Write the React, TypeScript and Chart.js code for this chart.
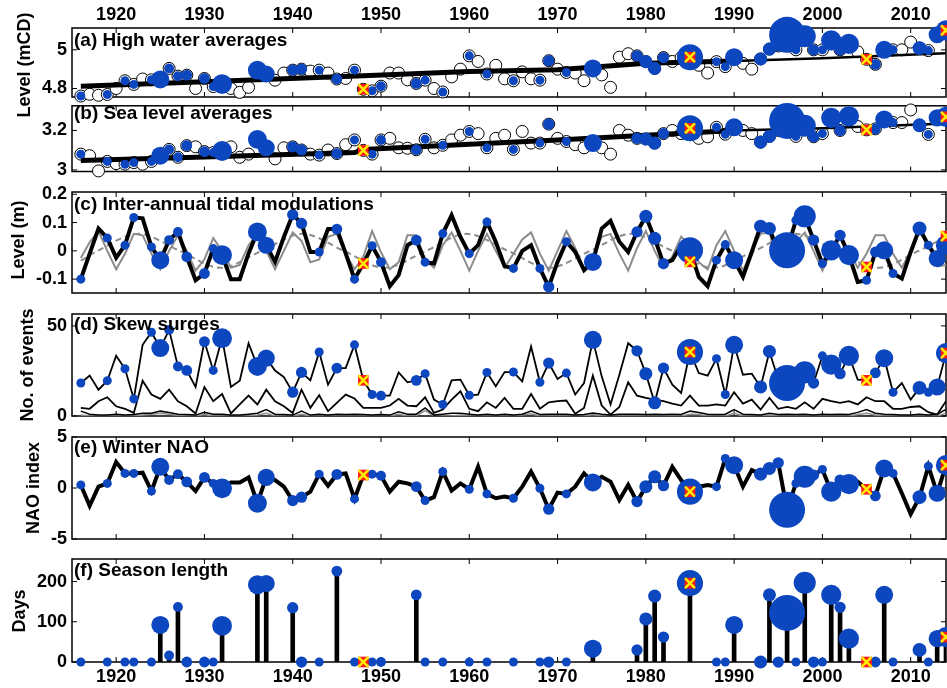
import React, { useEffect, useRef } from 'react';
import { Chart, registerables } from 'chart.js';

Chart.register(...registerables);

const FONT = "'Liberation Sans', Arial, Helvetica, sans-serif";
const BLUE = '#0d47bf';
const RED = '#ff1a1a';
const YELLOW = '#ffee00';
const GRAY = '#8c8c8c';
const X_MIN = 1915;
const X_MAX = 2014;
const R_UNIT = 4.5;

// ---------- categories ----------
const years = [
  1916, 1917, 1918, 1919,
  1920, 1921, 1922, 1923, 1924, 1925, 1926, 1927, 1928, 1929,
  1930, 1931, 1932, 1933, 1934, 1935, 1936, 1937, 1938, 1939,
  1940, 1941, 1942, 1943, 1944, 1945, 1946, 1947, 1948, 1949,
  1950, 1951, 1952, 1953, 1954, 1955, 1956, 1957, 1958, 1959,
  1960, 1961, 1962, 1963, 1964, 1965, 1966, 1967, 1968, 1969,
  1970, 1971, 1972, 1973, 1974, 1975, 1976, 1977, 1978, 1979,
  1980, 1981, 1982, 1983, 1984, 1985, 1986, 1987, 1988, 1989,
  1990, 1991, 1992, 1993, 1994, 1995, 1996, 1997, 1998, 1999,
  2000, 2001, 2002, 2003, 2004, 2005, 2006, 2007, 2008, 2009,
  2010, 2011, 2012, 2013, 2014,
];
const xTickYears = [1920, 1930, 1940, 1950, 1960, 1970, 1980, 1990, 2000, 2010];

// ---------- (a) high water averages (mCD) ----------
const highWater = [
  4.761, 4.770, 4.765, 4.769,
  4.800, 4.840, 4.821, 4.849, 4.845, 4.847, 4.904, 4.864, 4.869, 4.800,
  4.852, 4.810, 4.823, 4.800, 4.780, 4.806, 4.895, 4.875, 4.843, 4.880,
  4.895, 4.900, 4.890, 4.895, 4.880, 4.849, 4.852, 4.895, 4.796, 4.788,
  4.812, 4.880, 4.880, 4.845, 4.826, 4.843, 4.800, 4.782, 4.860, 4.900,
  4.969, 4.940, 4.875, 4.920, 4.850, 4.840, 4.886, 4.850, 4.843, 4.944,
  4.900, 4.883, 4.880, 4.840, 4.904, 4.870, 4.806, 4.962, 4.980, 4.969,
  4.939, 4.904, 4.960, 4.940, 4.960, 4.962, 4.920, 4.880, 4.939, 4.913,
  4.962, 4.930, 4.900, 4.953, 5.004, 5.020, 5.078, 5.000, 5.070, 5.000,
  5.000, 5.049, 5.000, 5.031, 4.990, 4.951, 4.925, 5.000, 5.000, 5.000,
  5.040, 5.009, 4.996, 5.078, 5.101,
];
const hwTrendYears = [1916, 1930, 1948, 1960, 1970, 1980, 1990, 2000, 2014];
const hwTrendValues = [4.812, 4.835, 4.866, 4.888, 4.897, 4.930, 4.942, 4.956, 4.982];

// ---------- (b) sea level averages (mCD) ----------
const seaLevel = [
  3.080, 3.072, 2.995, 3.043,
  3.032, 3.029, 3.037, 3.029, 3.043, 3.072, 3.104, 3.064, 3.123, 3.117,
  3.093, 3.088, 3.096, 3.117, 3.064, 3.080, 3.155, 3.112, 3.056, 3.112,
  3.117, 3.101, 3.080, 3.075, 3.101, 3.083, 3.128, 3.152, 3.099, 3.080,
  3.152, 3.160, 3.112, 3.110, 3.102, 3.155, 3.112, 3.125, 3.152, 3.176,
  3.195, 3.184, 3.112, 3.160, 3.176, 3.104, 3.195, 3.136, 3.136, 3.232,
  3.160, 3.144, 3.128, 3.112, 3.136, 3.112, 3.080, 3.200, 3.176, 3.160,
  3.157, 3.136, 3.184, 3.200, 3.184, 3.211, 3.160, 3.168, 3.216, 3.181,
  3.216, 3.200, 3.184, 3.141, 3.170, 3.200, 3.248, 3.170, 3.224, 3.168,
  3.184, 3.264, 3.200, 3.272, 3.220, 3.203, 3.208, 3.256, 3.240, 3.240,
  3.304, 3.226, 3.180, 3.264, 3.269,
];
const slTrendYears = [1916, 1930, 1947, 1948, 1960, 1970, 1980, 1990, 2000, 2014];
const slTrendValues = [3.048, 3.065, 3.088, 3.103, 3.130, 3.152, 3.176, 3.200, 3.211, 3.235];

// ---------- (c) inter-annual tidal modulations (m) ----------
const tidalObserved = [
  -0.100, -0.010, 0.079, 0.045,
  -0.024, 0.020, 0.118, 0.115, 0.014, -0.033, 0.038, 0.067, -0.021, -0.104,
  -0.080, 0.008, -0.015, -0.100, -0.100, -0.009, 0.067, 0.020, -0.039, 0.049,
  0.128, 0.097, -0.004, -0.004, 0.077, 0.077, -0.009, -0.100, -0.045, 0.018,
  -0.040, -0.125, -0.086, 0.020, 0.038, -0.040, -0.045, 0.061, 0.126, 0.049,
  -0.010, 0.020, 0.102, 0.032, -0.054, -0.062, 0.000, 0.020, -0.062, -0.127,
  -0.039, 0.032, -0.004, -0.068, -0.039, 0.079, 0.106, 0.032, -0.004, 0.067,
  0.122, 0.044, -0.045, -0.033, 0.020, 0.002, -0.092, -0.125, -0.033, 0.022,
  -0.033, -0.092, -0.004, 0.087, 0.079, -0.004, 0.002, 0.108, 0.122, 0.038,
  -0.045, 0.002, 0.055, -0.015, -0.110, -0.104, -0.004, 0.002, -0.080, -0.098,
  -0.004, 0.079, 0.020, -0.027, 0.020,
];
const tidalPredicted = [
  -0.025, 0.030, 0.070, 0.000,
  -0.065, -0.010, 0.060, 0.055, -0.010, -0.065, 0.000, 0.055, 0.000, -0.070,
  -0.030, 0.045, 0.000, -0.060, -0.050, 0.020, 0.060, 0.000, -0.065, 0.000,
  0.065, 0.035, -0.040, -0.030, 0.050, 0.060, -0.010, -0.065, -0.020, 0.070,
  -0.005, -0.065, -0.040, 0.055, 0.055, -0.030, -0.060, 0.020, 0.065, 0.000,
  -0.070, 0.000, 0.060, 0.000, -0.060, -0.010, 0.040, 0.065, -0.010, -0.070,
  0.000, 0.070, 0.010, -0.065, -0.030, 0.050, 0.060, -0.010, -0.070, 0.010,
  0.070, 0.000, -0.060, -0.020, 0.050, 0.020, -0.040, -0.065, 0.020, 0.070,
  0.000, -0.070, 0.000, 0.060, 0.065, -0.050, -0.055, 0.030, 0.065, 0.000,
  -0.070, 0.000, 0.060, 0.000, -0.060, -0.010, 0.055, 0.055, -0.010, -0.060,
  0.000, 0.080, 0.020, -0.055, -0.050,
];
const nodalYears = [1916, 1917.9, 1922.5, 1927.2, 1931.8, 1936.5, 1941.1, 1945.8, 1950.4, 1955.1, 1959.7, 1964.4, 1969.0, 1973.7, 1978.3, 1983.0, 1987.6, 1992.3, 1996.9, 2001.6, 2006.2, 2010.9, 2014];
const nodalValues = [-0.035, 0, 0.06, 0, -0.06, 0, 0.06, 0, -0.06, 0, 0.06, 0, -0.06, 0, 0.06, 0, -0.06, 0, 0.06, 0, -0.06, 0, 0.05];
const nodalAtMarks = [-0.045, -0.039, -0.057, 0.052];

// ---------- (d) skew surges (no. of events) ----------
const surgesLow = [
  18.3, 22.4, 14.6, 19.6,
  33.4, 26.2, 9.5, 39.5, 46.5, 37.7, 47.8, 27.5, 25.3, 16.1,
  41.3, 25.3, 43.2, 16.1, 19.6, 40.4, 27.5, 32.1, 25.2, 21.6,
  13.2, 24.2, 19.8, 35.5, 17.4, 26.6, 26.6, 39.5, 19.8, 11.9,
  11.3, 11.3, 24.2, 18.7, 19.8, 23.5, 9.1, 6.4, 19.8, 20.2,
  11.5, 11.9, 24.2, 16.5, 24.4, 24.4, 19.2, 38.6, 18.7, 29.4,
  20.5, 23.8, 11.9, 18.3, 42.3, 22.0, 6.4, 22.9, 40.4, 36.2,
  23.5, 7.3, 26.6, 17.4, 12.8, 35.5, 23.8, 22.4, 31.8, 11.9,
  39.5, 22.9, 23.5, 16.1, 35.8, 20.2, 18.3, 24.8, 24.2, 18.3,
  33.4, 28.5, 23.5, 33.4, 20.2, 19.8, 23.9, 32.1, 13.2, 18.3,
  9.1, 15.6, 13.2, 16.1, 34.9,
];
const surgesMid = [
  4.5, 4.0, 8.2, 10.4,
  5.4, 4.0, 1.7, 19.6, 11.9, 9.5, 14.6, 8.2, 5.4, 1.4,
  16.1, 8.2, 12.2, 1.4, 6.4, 11.3, 6.4, 14.6, 8.2, 5.4,
  1.7, 14.6, 4.5, 11.5, 2.7, 7.3, 11.9, 9.7, 4.5, 4.5,
  4.5, 5.8, 9.5, 5.8, 5.4, 10.4, 1.7, 3.6, 9.1, 13.7,
  4.0, 2.7, 7.6, 4.5, 10.0, 4.0, 4.0, 12.2, 4.0, 7.6,
  8.2, 8.6, 1.2, 4.5, 22.4, 5.8, 0.8, 5.0, 18.7, 11.3,
  10.0, 9.1, 8.2, 6.9, 5.8, 11.3, 5.8, 5.8, 6.4, 5.8,
  13.2, 6.9, 9.1, 3.6, 10.0, 4.0, 5.0, 4.0, 7.6, 4.0,
  9.5, 8.2, 7.3, 8.2, 6.4, 10.4, 8.2, 8.2, 4.0, 4.0,
  5.0, 5.4, 2.1, 0.8, 8.2,
];
const surgesHigh = [
  2.7, 1.0, 0.5, 0.5,
  1.0, 0.5, 0.8, 1.5, 1.5, 2.7, 2.0, 1.0, 0.8, 0.5,
  2.0, 1.0, 1.0, 0.5, 0.5, 1.0, 1.5, 3.6, 1.0, 0.8,
  0.5, 2.7, 0.5, 1.0, 0.5, 1.0, 0.8, 1.0, 0.8, 0.5,
  0.8, 0.5, 2.3, 1.0, 1.0, 4.5, 0.5, 1.0, 1.5, 1.5,
  1.0, 0.5, 1.0, 0.5, 1.0, 0.5, 1.0, 2.7, 0.8, 1.0,
  1.0, 1.0, 0.5, 0.8, 1.7, 1.0, 0.5, 1.0, 1.0, 1.0,
  0.8, 1.0, 0.8, 1.0, 0.8, 2.7, 2.0, 1.0, 0.8, 1.0,
  3.6, 1.0, 0.8, 0.5, 1.5, 0.8, 1.0, 0.8, 1.0, 0.5,
  1.0, 0.8, 1.0, 0.8, 2.0, 3.6, 1.5, 1.0, 0.8, 0.5,
  0.5, 1.0, 0.5, 1.0, 3.6,
];
const surgesExtreme = [
  0.5, 0, 0, 0,
  0, 0, 0, 0.5, 1.0, 1.5, 1.0, 0.3, 0, 0,
  0.8, 0, 0, 0, 0, 0, 0.5, 1.5, 0, 0,
  0, 1.0, 0, 0, 0, 0, 0, 0, 0, 0,
  0, 0, 1.0, 0, 0, 3.0, 0, 0, 0, 0.5,
  0, 0, 0, 0, 0, 0, 0.5, 1.2, 0, 0,
  0, 0, 0, 0, 0.8, 0, 0, 0, 0, 0,
  0, 0, 0, 0.5, 0, 1.0, 0.8, 0, 0, 0,
  1.5, 0, 0, 0, 0.5, 0, 0, 0, 0, 0,
  0, 0, 0, 0, 0.8, 1.5, 0.5, 0, 0, 0,
  0, 0, 0, 0, 1.5,
];

// ---------- (e) winter NAO index ----------
const naoIndex = [
  0.30, -1.75, 0.13, 0.45,
  2.56, 1.43, 1.43, 1.50, -0.30, 2.08, 0.78, 1.36, 0.60, -0.30,
  1.04, 0.45, -0.03, 0.55, 0.55, 1.04, -1.49, 1.04, 0.78, 0.13,
  -1.23, -0.90, -0.36, 1.36, 0.23, 1.33, 1.43, -1.07, 1.27, 1.36,
  1.20, -0.36, 0.62, 0.45, 0.13, -1.23, -0.90, 1.60, -0.26, 0.45,
  -0.12, 2.08, -0.58, -1.00, -0.84, -1.00, 0.13, 1.60, -0.03, -2.08,
  -0.45, -0.58, 0.13, 1.43, 0.55, 1.10, 0.62, -1.17, 0.30, -1.33,
  0.13, 1.10, 0.23, 2.08, 0.78, -0.36, 0.13, 0.30, 0.13, 2.89,
  2.24, 0.13, 1.75, 1.36, 1.92, 2.47, -2.14, 0.45, 1.10, 1.27,
  1.82, -0.36, 0.78, 0.39, 0.62, -0.13, -0.78, 1.92, 1.43, -0.52,
  -2.56, -0.90, 2.14, -0.52, 2.24,
];

// ---------- event years (blue markers), their magnitude and (f) season length ----------
const eventYears = [
  1916, 1919, 1921, 1922, 1924, 1925, 1926, 1927, 1928, 1930,
  1931, 1932, 1936, 1937, 1940, 1941, 1943, 1945, 1947, 1948,
  1949, 1950, 1954, 1955, 1957, 1960, 1962, 1965, 1968, 1969,
  1971, 1974, 1979, 1980, 1981, 1982, 1985, 1988, 1989, 1990,
  1993, 1994, 1995, 1996, 1997, 1998, 1999, 2000, 2001, 2002,
  2003, 2005, 2006, 2007, 2008, 2011, 2012, 2013, 2014,
];
const eventMagnitude = [
  1, 1, 1, 1, 1, 2, 1.1, 1.1, 1.2, 1.2,
  1, 2.2, 2.1, 1.9, 1.25, 1.25, 1, 1.2, 1, 1,
  1, 1.1, 1.2, 1, 1, 1, 1, 1, 1, 1.25,
  1, 2, 1.25, 1.45, 1.45, 1.25, 2.9, 1, 1, 2,
  1.45, 1.45, 1.25, 4, 1, 2.45, 1.25, 1, 2.25, 1.25,
  2.25, 1, 1.2, 2, 1, 1.55, 1, 1.9, 2.25,
];
const seasonLength = [
  0, 0, 0, 0, 0, 92, 16, 137, 0, 0,
  0, 90, 192, 195, 135, 0, 0, 226, 0, 0,
  0, 0, 167, 0, 0, 0, 0, 0, 0, 0,
  0, 33, 30, 107, 164, 62, 196, 0, 0, 92,
  0, 167, 0, 122, 0, 197, 0, 0, 167, 136,
  58, 0, 0, 167, 0, 30, 0, 58, 62,
];
const markYears = [1948, 1985, 2005, 2014];

// ---------- tick labels ----------
const hwTicks = [4.8, 5];
const hwTickLabels = ['4.8', '5'];
const slTicks = [3, 3.2];
const slTickLabels = ['3', '3.2'];
const tideTicks = [-0.1, 0, 0.1, 0.2];
const tideTickLabels = ['-0.1', '0', '0.1', '0.2'];
const surgeTicks = [0, 50];
const surgeTickLabels = ['0', '50'];
const naoTicks = [-5, 0, 5];
const naoTickLabels = ['-5', '0', '5'];
const seasonTicks = [0, 100, 200];
const seasonTickLabels = ['0', '100', '200'];

// ---------- helpers ----------
const pts = (xs: number[], ys: number[]) => xs.map((x, i) => ({ x, y: ys[i] }));
const atYear = (series: number[], yr: number) => series[years.indexOf(yr)];

const lineSet = (xs: number[], ys: number[], color: string, width: number, order: number, extra: any = {}) => ({
  type: 'line',
  data: pts(xs, ys),
  borderColor: color,
  borderWidth: width,
  pointRadius: 0,
  fill: false,
  tension: 0,
  order,
  ...extra,
});

const openCircles = (ys: number[]) => ({
  type: 'scatter',
  data: pts(years, ys),
  pointRadius: 6,
  pointBackgroundColor: '#ffffff',
  pointBorderColor: '#000000',
  pointBorderWidth: 1,
  clip: false,
  order: 3,
});

const bubbles = (valueOf: (yr: number, i: number) => number) => ({
  type: 'bubble',
  data: eventYears.map((yr, i) => ({ x: yr, y: valueOf(yr, i), r: eventMagnitude[i] * R_UNIT })),
  backgroundColor: BLUE,
  borderWidth: 0,
  clip: false,
  order: 1,
});

const marks = (ys: number[]) => [
  {
    type: 'scatter',
    data: pts(markYears, ys),
    pointStyle: 'rect',
    pointRadius: 7.5,
    pointBackgroundColor: RED,
    pointBorderWidth: 0,
    clip: false,
    order: 0,
  },
  {
    type: 'scatter',
    data: pts(markYears, ys),
    pointStyle: 'crossRot',
    pointRadius: 7,
    pointBorderColor: YELLOW,
    pointBorderWidth: 2.5,
    clip: false,
    order: -1,
  },
];

const seasonAt = (yr: number) => seasonLength[eventYears.indexOf(yr)];

type PanelSpec = {
  key: string;
  canvasTop: number;
  canvasHeight: number;
  areaTop: number;
  areaBottom: number;
  yMin: number;
  yMax: number;
  yTicks: number[];
  yTickLabels: string[];
  xLabels?: 'top' | 'bottom';
  title: string;
  titleOffset: number;
  yTitle?: string;
  yTitleX?: number;
  yTitleY?: number;
  datasets: any[];
};

const panels: PanelSpec[] = [
  {
    key: 'a', canvasTop: 0, canvasHeight: 150, areaTop: 28, areaBottom: 97,
    yMin: 4.756, yMax: 5.113, yTicks: hwTicks, yTickLabels: hwTickLabels,
    xLabels: 'top', title: '(a) High water averages', titleOffset: 18,
    yTitle: 'Level (mCD)', yTitleX: 25, yTitleY: 65,
    datasets: [
      ...marks(markYears.map((y) => atYear(highWater, y))),
      bubbles((yr) => atYear(highWater, yr)),
      lineSet(hwTrendYears, hwTrendValues, '#000', 5, 2, {
        segment: { borderWidth: (c: any) => (c.p0.parsed.x < 1990 ? 5 : 2.5) },
      }),
      openCircles(highWater),
    ],
  },
  {
    key: 'b', canvasTop: 90, canvasHeight: 100, areaTop: 102, areaBottom: 171.5,
    yMin: 2.992, yMax: 3.325, yTicks: slTicks, yTickLabels: slTickLabels,
    title: '(b) Sea level averages', titleOffset: 13,
    datasets: [
      ...marks(markYears.map((y) => atYear(seaLevel, y))),
      bubbles((yr) => atYear(seaLevel, yr)),
      lineSet(slTrendYears, slTrendValues, '#000', 5, 2, {
        segment: { borderWidth: (c: any) => (c.p0.parsed.x < 1990 ? 5 : 2.5) },
      }),
      openCircles(seaLevel),
    ],
  },
  {
    key: 'c', canvasTop: 175, canvasHeight: 135, areaTop: 192, areaBottom: 293,
    yMin: -0.149, yMax: 0.208, yTicks: tideTicks, yTickLabels: tideTickLabels,
    title: '(c) Inter-annual tidal modulations', titleOffset: 18,
    yTitle: 'Level (m)', yTitleX: 19.5, yTitleY: 240,
    datasets: [
      ...marks(nodalAtMarks),
      bubbles((yr) => atYear(tidalObserved, yr)),
      lineSet(years, tidalObserved, '#000', 4, 2),
      lineSet(years, tidalPredicted, GRAY, 2, 3),
      lineSet(nodalYears, nodalValues, GRAY, 2, 4, { borderDash: [6, 4], cubicInterpolationMode: 'monotone' }),
    ],
  },
  {
    key: 'd', canvasTop: 298, canvasHeight: 135, areaTop: 314, areaBottom: 416,
    yMin: 0, yMax: 56.6, yTicks: surgeTicks, yTickLabels: surgeTickLabels,
    title: '(d) Skew surges', titleOffset: 16,
    yTitle: 'No. of events', yTitleX: 28.5, yTitleY: 365,
    datasets: [
      ...marks(markYears.map((y) => atYear(surgesLow, y))),
      bubbles((yr) => atYear(surgesLow, yr)),
      lineSet(years, surgesLow, '#000', 1.8, 2),
      lineSet(years, surgesMid, '#000', 1.8, 3),
      lineSet(years, surgesHigh, '#000', 1.5, 4),
      lineSet(years, surgesExtreme, GRAY, 1.5, 5),
    ],
  },
  {
    key: 'e', canvasTop: 420, canvasHeight: 135, areaTop: 437, areaBottom: 539,
    yMin: -5, yMax: 5, yTicks: naoTicks, yTickLabels: naoTickLabels,
    title: '(e) Winter NAO', titleOffset: 16,
    yTitle: 'NAO index', yTitleX: 34.5, yTitleY: 488,
    datasets: [
      ...marks(markYears.map((y) => atYear(naoIndex, y))),
      bubbles((yr) => atYear(naoIndex, yr)),
      lineSet(years, naoIndex, '#000', 4, 2),
    ],
  },
  {
    key: 'f', canvasTop: 540, canvasHeight: 148, areaTop: 559, areaBottom: 662,
    yMin: 0, yMax: 256, yTicks: seasonTicks, yTickLabels: seasonTickLabels,
    xLabels: 'bottom', title: '(f) Season length', titleOffset: 17,
    yTitle: 'Days', yTitleX: 20, yTitleY: 611,
    datasets: [
      ...marks(markYears.map((y) => seasonAt(y))),
      bubbles((_yr, i) => seasonLength[i]),
      {
        type: 'bar',
        data: pts(eventYears, seasonLength).filter((p) => p.y > 0),
        backgroundColor: '#000',
        borderWidth: 0,
        barThickness: 4,
        grouped: false,
        order: 2,
      },
    ],
  },
];

const framePlugin = {
  id: 'frame',
  beforeDatasetsDraw(chart: any) {
    const { ctx, chartArea: a, scales } = chart;
    const x = scales.x;
    const y = scales.y;
    ctx.save();
    ctx.strokeStyle = '#000';
    ctx.lineWidth = 1;
    ctx.beginPath();
    for (const t of x.ticks) {
      const px = x.getPixelForValue(t.value);
      ctx.moveTo(px, a.bottom);
      ctx.lineTo(px, a.bottom - 5);
      ctx.moveTo(px, a.top);
      ctx.lineTo(px, a.top + 5);
    }
    for (const t of y.ticks) {
      const py = y.getPixelForValue(t.value);
      ctx.moveTo(a.left, py);
      ctx.lineTo(a.left + 5, py);
      ctx.moveTo(a.right, py);
      ctx.lineTo(a.right - 5, py);
    }
    ctx.stroke();
    ctx.lineWidth = 1.5;
    ctx.strokeRect(a.left, a.top, a.right - a.left, a.bottom - a.top);
    ctx.restore();
  },
};

const makeTextPlugin = (p: PanelSpec) => ({
  id: 'panelText',
  afterDatasetsDraw(chart: any) {
    const { ctx, chartArea: a } = chart;
    ctx.save();
    ctx.fillStyle = '#000';
    ctx.font = `bold 19px ${FONT}`;
    ctx.textAlign = 'left';
    ctx.textBaseline = 'alphabetic';
    ctx.fillText(p.title, a.left + 2, a.top + p.titleOffset);
    if (p.yTitle) {
      ctx.translate(p.yTitleX as number, (p.yTitleY as number) - p.canvasTop);
      ctx.rotate(-Math.PI / 2);
      ctx.font = `bold 18px ${FONT}`;
      ctx.textAlign = 'center';
      ctx.textBaseline = 'middle';
      ctx.fillText(p.yTitle, 0, 0);
    }
    ctx.restore();
  },
});

function buildConfig(p: PanelSpec): any {
  const padTop = p.xLabels === 'top' ? 0 : p.areaTop - p.canvasTop;
  const padBottom = p.xLabels === 'bottom' ? 0 : p.canvasTop + p.canvasHeight - p.areaBottom;
  const xAxisH =
    p.xLabels === 'top'
      ? p.areaTop - p.canvasTop
      : p.xLabels === 'bottom'
      ? p.canvasTop + p.canvasHeight - p.areaBottom
      : 0;
  const tickFont = { family: FONT, size: 18, weight: 'bold' };
  return {
    type: 'scatter',
    data: { datasets: p.datasets },
    options: {
      animation: false,
      responsive: false,
      maintainAspectRatio: false,
      devicePixelRatio: 1,
      events: [],
      layout: { autoPadding: false, padding: { top: padTop, bottom: padBottom, left: 0, right: 1 } },
      plugins: { legend: { display: false }, tooltip: { enabled: false }, title: { display: false } },
      scales: {
        x: {
          type: 'linear',
          min: X_MIN,
          max: X_MAX,
          offset: false,
          position: p.xLabels === 'top' ? 'top' : 'bottom',
          display: !!p.xLabels,
          grid: { display: false, drawTicks: false },
          border: { display: false },
          ticks: {
            font: tickFont,
            color: '#000',
            padding: p.xLabels === 'top' ? 2 : 4,
            autoSkip: false,
            maxRotation: 0,
            callback: (v: any) => String(v),
          },
          afterBuildTicks: (s: any) => {
            s.ticks = xTickYears.map((v) => ({ value: v }));
          },
          afterFit: (s: any) => {
            s.height = xAxisH;
          },
        },
        y: {
          type: 'linear',
          min: p.yMin,
          max: p.yMax,
          grid: { display: false, drawTicks: false },
          border: { display: false },
          ticks: {
            font: tickFont,
            color: '#000',
            padding: 5,
            autoSkip: false,
            callback: (_v: any, i: number) => p.yTickLabels[i],
          },
          afterBuildTicks: (s: any) => {
            s.ticks = p.yTicks.map((v) => ({ value: v }));
          },
          afterFit: (s: any) => {
            s.width = 72;
          },
        },
      },
    },
    plugins: [framePlugin, makeTextPlugin(p)],
  };
}

function Panel({ spec }: { spec: PanelSpec }) {
  const ref = useRef<HTMLCanvasElement>(null);
  useEffect(() => {
    if (!ref.current) return;
    const chart = new Chart(ref.current, buildConfig(spec));
    return () => chart.destroy();
  }, [spec]);
  return (
    <canvas
      ref={ref}
      width={947}
      height={spec.canvasHeight}
      style={{ position: 'absolute', left: 0, top: spec.canvasTop, width: 947, height: spec.canvasHeight }}
    />
  );
}

export default function App() {
  useEffect(() => {
    document.body.style.margin = '0';
    document.body.style.overflow = 'hidden';
  }, []);
  return (
    <div style={{ position: 'absolute', left: 0, top: 0, width: 947, height: 688, background: '#fff', overflow: 'hidden' }}>
      {panels.map((p) => (
        <Panel key={p.key} spec={p} />
      ))}
    </div>
  );
}
